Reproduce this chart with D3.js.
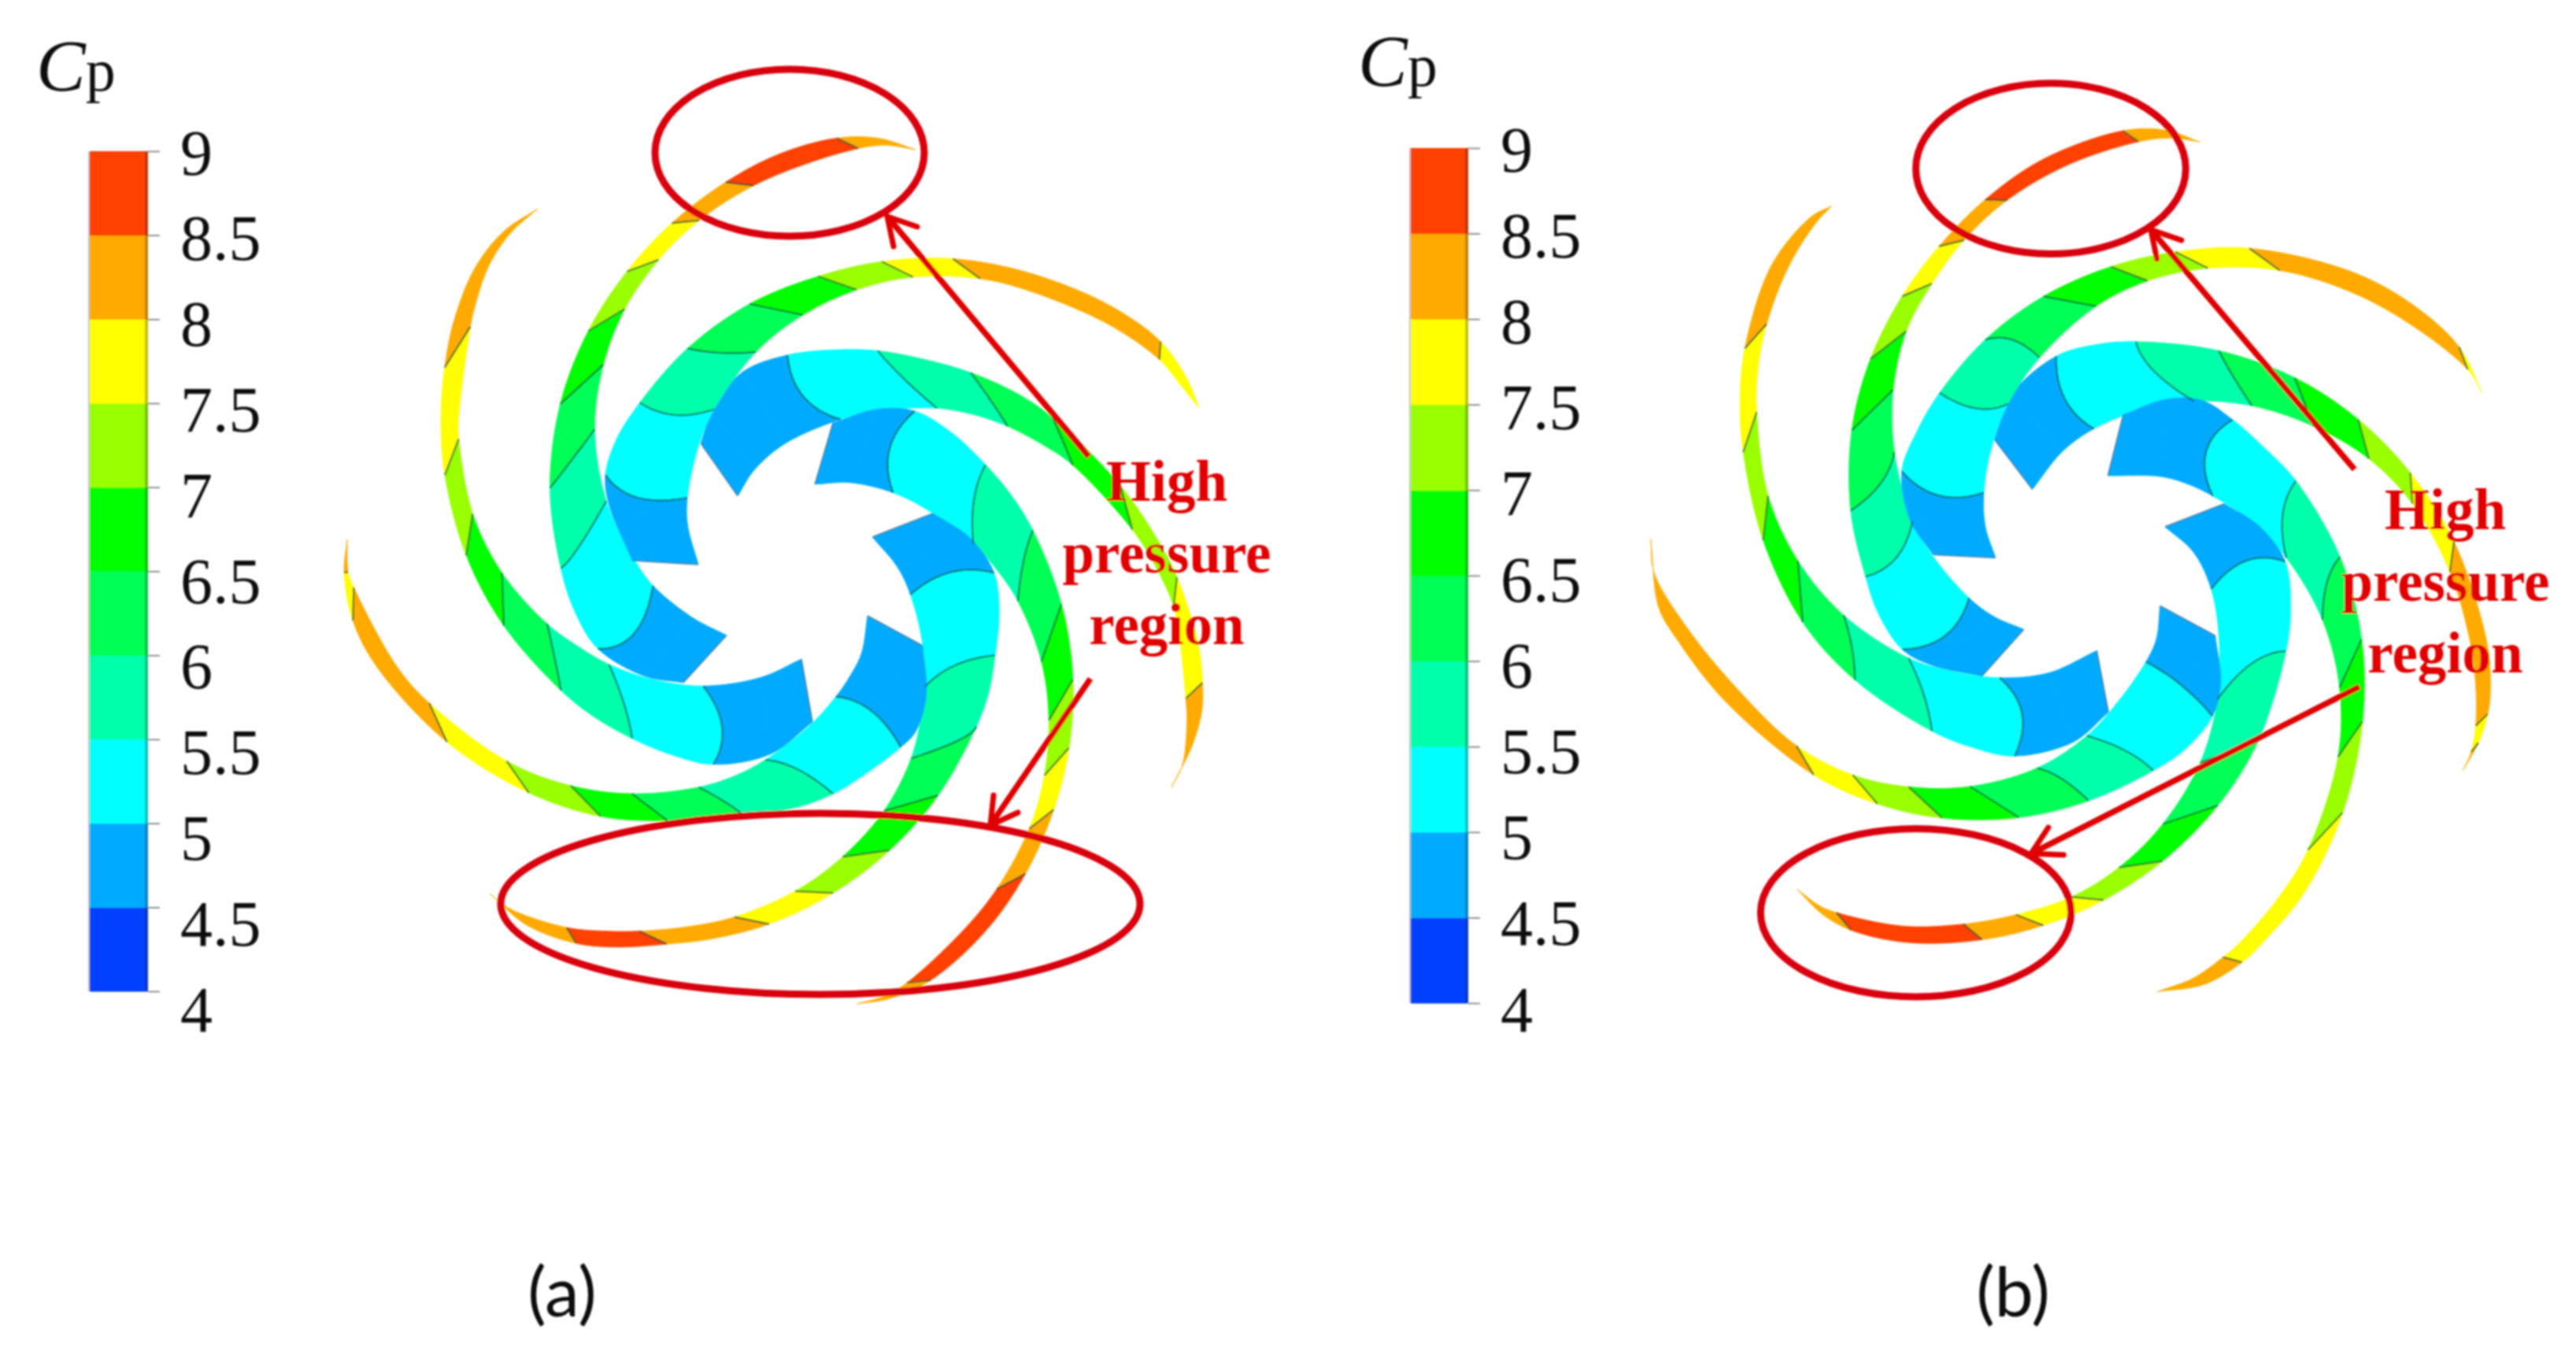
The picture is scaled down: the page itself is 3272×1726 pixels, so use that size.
<!DOCTYPE html>
<html><head><meta charset="utf-8">
<style>html,body{margin:0;background:#fff}svg{display:block}</style>
<script src="https://cdn.jsdelivr.net/npm/d3@7"></script></head><body>
<svg id="c" width="3272" height="1726"></svg>
<script>
// Cp colour bands
const cpTicks=[4,4.5,5,5.5,6,6.5,7,7.5,8,8.5,9];
const cpBandLow=[4,4.5,5,5.5,6,6.5,7,7.5,8,8.5];
const cpColors=["#0040ff","#00aaff","#00ffff","#00ffaa","#00ff55","#00ff00","#99ff00","#ffff00","#ffaa00","#ff4000"];
// Blade stations: [convexX,convexY,concaveX,concaveY,Cp of following band,(contour midX,midY)]
const bladeA1=[[890,563,937,630,4.5],[907,523,957,597,4.5],[940,470,997,563,4.5],[1002,453,1068,533,5,1020,503],[1063,444,1113,522,5],[1115,445,1190,518,5.5,1147,480],[1173,457,1237,527,5.5],[1233,473,1280,541,6,1258,508],[1293,500,1327,567,6],[1337,530,1363,590,6.5,1350,560],[1423,617,1438,673,7],[1467,680,1468,720,7],[1495,733,1493,770,7.5],[1522,817,1497,817,7.5],[1527,867,1507,887,8],[1528,903,1507,917,8],[1513,947,1503,973,8],[1488,1000,1488,1000,8]];
const bladeA2=[[1058,537,1035,615,4.5],[1113,522,1080,613,4.5],[1163,519,1135,625,5,1130,570],[1210,553,1183,652,5],[1252,590,1237,690,5.5,1237,635],[1283,627,1265,723,5.5],[1312,673,1293,763,6,1300,713],[1348,767,1323,840,6.5],[1363,863,1332,915,7],[1358,950,1327,985,7.5],[1338,1028,1307,1052,8],[1303,1110,1267,1130,8.5],[1251,1182,1221,1182,8.5],[1183,1247,1153,1250,8],[1130,1268,1125,1265,8],[1088,1275,1088,1275,8]];
const bladeA3=[[1185,652,1108,682,4.5],[1230,683,1140,720,4.5],[1265,727,1157,755,5,1207,727],[1268,780,1170,813,5],[1263,832,1177,872,5.5,1213,845],[1257,880,1170,903,5.5],[1240,922,1158,963,6,1218,940],[1192,1010,1123,1030,6.5],[1130,1080,1070,1088,7],[1058,1134,1010,1132,7.5],[977,1174,933,1165,8],[900,1193,875,1176,8],[847,1198,812,1183,8.5],[785,1203,770,1182,8.5],[732,1198,720,1178,8],[668,1175,647,1155,8],[622,1135,622,1135,8]];
const bladeA4=[[1172,820,1102,782,4.5],[1175,883,1095,830,4.5],[1165,932,1078,860,4.5],[1143,948,1062,885,5,1107,903],[1100,983,1030,920,5],[1058,1007,972,965,5.5,1013,977],[1007,1030,935,985,5.5],[943,1032,888,1000,6,920,1018],[848,1042,803,1008,6.5,825,1025],[763,1038,725,998,7],[672,1007,643,967,7.5],[568,942,546,892,8],[477,847,503,847,8],[447,788,450,745,7.5],[437,727,440,727,8],[441,685,441,685,8]];
const bladeA5=[[1032,917,1018,837,4.5],[980,957,967,860,4.5],[905,972,893,872,5,917,923],[853,957,830,862,5],[803,938,773,845,5.5,793,895],[753,910,735,820,5.5],[713,877,695,793,6,705,838],[640,795,638,728,6.5],[592,705,600,652,7],[565,603,583,557,7.5],[560,533,582,533,7.5],[565,467,598,415,8],[577,407,602,393,8],[603,340,620,340,8],[640,293,647,297,8],[683,265,683,265,8]];
const bladeA6=[[868,867,923,807,4.5],[820,858,880,783,4.5],[758,825,828,745,5,805,805],[730,777,805,707,5],[713,722,770,637,5.5,735,695],[698,620,755,545,6,718,595],[712,513,767,463,6.5],[747,420,793,392,7],[797,345,837,330,7.5],[853,283,888,280,8],[922,232,957,235,8.5],[990,195,1028,208,8.5],[1063,175,1090,187,8],[1117,175,1125,184,8],[1163,190,1163,190,8]];
const bladeA7=[[803,712,887,717,4.5],[775,640,873,667,4.5],[767,603,873,632,5,810,632],[782,557,887,567,5],[813,512,907,520,5.5,857,527],[873,443,960,447,6,915,448],[952,385,1020,400,6.5],[1040,352,1088,368,7],[1120,332,1160,352,7.5],[1210,328,1245,353,8],[1307,347,1307,370,8],[1407,387,1407,412,8],[1477,432,1475,455,7.5],[1507,483,1497,490,7.5],[1523,518,1523,518,7.5]];
const bladeB1=[[620,630,682,710,4.5],[645,560,730,650,4.5],[722,495,782,612,5,735,565],[785,478,860,583,5],[850,472,945,568,5.5,880,520],[985,488,1040,575,6,1010,530],[1110,530,1140,610,6.5],[1213,598,1231,660,7],[1298,683,1302,733,7.5],[1369,794,1362,843,8],[1424,957,1396,957,8],[1430,1033,1405,1033,8],[1424,1071,1405,1090,7.5],[1409,1117,1398,1132,8],[1384,1161,1384,1161,8]];
const bladeB2=[[830,590,805,688,4.5],[900,568,890,690,4.5],[960,563,935,700,4.5],[1008,600,975,722,5,965,650],[1060,645,1040,760,5],[1112,695,1095,820,5.5,1090,750],[1183,818,1155,919,6,1162,860],[1219,951,1183,1028,6.5],[1220,1083,1180,1140,7],[1187,1229,1131,1290,7.5],[1125,1361,1082,1366,7.5],[1056,1437,1020,1440,7.5],[1025,1470,992,1460,8],[962,1505,945,1496,8],[885,1517,885,1517,8]];
const bladeB3=[[995,733,898,770,4.5],[1050,770,945,810,4.5],[1097,825,975,870,5,1030,825],[1103,900,985,950,5],[1095,969,984,1047,5.5,1039,990],[1050,1115,956,1149,6],[984,1218,894,1248,6.5],[894,1307,823,1317,7],[798,1370,746,1366,7.5],[700,1410,655,1392,8],[600,1433,570,1408,8.5],[480,1438,470,1412,8.5],[385,1420,362,1390,8],[340,1392,335,1380,8],[298,1352,298,1352,8]];
const bladeB4=[[980,945,890,897,4.5],[988,1020,885,950,4.5],[977,1075,868,988,5,924,1024],[930,1130,820,1050,5],[879,1161,772,1106,5.5,834,1130],[774,1210,690,1158,6,730,1175],[660,1237,580,1187,6.5],[535,1238,480,1188,7],[430,1215,390,1168,7.5],[325,1170,295,1125,8],[183,1050,205,1030,8],[105,955,120,935,8],[70,900,60,845,8],[60,790,60,790,8]];
const bladeB5=[[806,1068,787,969,4.5],[750,1115,710,1005,4.5],[652,1140,628,1013,5,665,1070],[590,1125,550,1000,5],[518,1100,480,983,5.5,505,1040],[395,1015,375,912,6,388,965],[305,925,300,825,6.5],[245,790,250,720,7],[210,650,235,585,7.5],[205,570,232,520,7.5],[215,485,250,445,8],[255,350,285,350,8],[320,270,330,280,8],[355,255,355,255,8]];
const bladeB6=[[600,1010,668,935,4.5],[520,990,620,915,4.5],[468,970,578,885,5,540,945],[430,910,520,815,5],[412,850,485,762,5.5,460,820],[385,745,458,650,6,435,700],[388,615,455,550,6.5],[418,500,475,455,7],[470,400,520,380,7.5],[530,320,570,310,8],[605,245,640,245,8.5],[700,180,740,190,8.5],[830,132,855,150,8],[900,132,910,145,8],[955,152,955,152,8]];
const bladeB7=[[520,815,622,820,4.5],[485,760,605,770,4.5],[465,680,602,715,5,530,720],[495,620,615,650,5],[530,555,640,572,5.5,590,580],[605,470,695,500,6,650,470],[700,400,785,415,6.5],[810,352,870,375,7],[915,330,968,355,7.5],[1035,322,1085,358,8],[1200,360,1200,392,8],[1300,412,1295,445,8],[1380,480,1395,515,7.5],[1415,555,1415,555,7.5]];
// Annotations: ellipses [cx,cy,rx,ry], arrows [fromX,fromY,toX,toY,barb1X,barb1Y,barb2X,barb2Y]
const ellipsesA=[[1003,194,171,106],[1042,1148,406,115]];
const ellipsesB=[[712,195,220,137],[492,1390,253,135]];
const arrowsA=[[1383,580,1127,275,1165,288,1135,313],[1385,862,1258,1048,1262,1010,1293,1032]];
const arrowsB=[[1207,678,875,293,925,310,885,340],[1215,1027,680,1295,733,1297,708,1253]];
const calloutLines=["High","pressure","region"];

const svg=d3.select("#c");
const defs=svg.append("defs");
defs.append("filter").attr("id","soft").attr("x","-2%").attr("y","-2%").attr("width","104%").attr("height","104%")
  .append("feGaussianBlur").attr("stdDeviation",0.8);
const root=svg.append("g").attr("filter","url(#soft)");
const color=d3.scaleThreshold().domain(cpBandLow.slice(1)).range(cpColors);
const serif="'Liberation Serif','Times New Roman',serif";
const RED="#e00000";

// Reading noise only: pull each edge point towards a local quadratic through its neighbours.
function solve3(A,b){
  const M=A.map((r,i)=>[...r,b[i]]);
  for(let c=0;c<3;c++){
    let p=c;for(let r=c+1;r<3;r++)if(Math.abs(M[r][c])>Math.abs(M[p][c]))p=r;
    [M[c],M[p]]=[M[p],M[c]];
    for(let r=0;r<3;r++)if(r!==c){const f=M[r][c]/M[c][c];for(let k=c;k<4;k++)M[r][k]-=f*M[c][k];}
  }
  return M.map((r,i)=>r[3]/r[i]);
}
function smoothEdge(pts,blend){
  const s=[0];pts.forEach((p,i)=>{if(i)s.push(s[i-1]+Math.hypot(p[0]-pts[i-1][0],p[1]-pts[i-1][1]));});
  return pts.map((p,i)=>{
    if(i===0||i===pts.length-1) return p;
    const a=Math.max(0,i-2),b=Math.min(pts.length-1,i+2);
    if(b-a<3) return p;
    const A=[[0,0,0],[0,0,0],[0,0,0]],bx=[0,0,0],by=[0,0,0];
    for(let k=a;k<=b;k++){
      const t=(s[k]-s[i])/100,v=[1,t,t*t];
      for(let r=0;r<3;r++){for(let c=0;c<3;c++)A[r][c]+=v[r]*v[c];bx[r]+=v[r]*pts[k][0];by[r]+=v[r]*pts[k][1];}
    }
    return [p[0]+blend*(solve3(A,bx)[0]-p[0]),p[1]+blend*(solve3(A,by)[0]-p[1])];
  });
}
function smoothBlade(b){
  const o=smoothEdge(b.map(s=>[s[0],s[1]]),.65),n=smoothEdge(b.map(s=>[s[2],s[3]]),.65);
  return b.map((s,i)=>[o[i][0],o[i][1],n[i][0],n[i][1],...s.slice(4)]);
}
function cr(p0,p1,p2,p3,t){ // centripetal Catmull-Rom
  const kn=(a,b,k)=>k+Math.max(1e-3,Math.pow(Math.hypot(b[0]-a[0],b[1]-a[1]),.5));
  const t0=0,t1=kn(p0,p1,t0),t2=kn(p1,p2,t1),t3=kn(p2,p3,t2),u=t1+(t2-t1)*t;
  const l=(a,b,ta,tb)=>[a[0]+(b[0]-a[0])*(u-ta)/(tb-ta),a[1]+(b[1]-a[1])*(u-ta)/(tb-ta)];
  const A1=l(p0,p1,t0,t1),A2=l(p1,p2,t1,t2),A3=l(p2,p3,t2,t3);
  const B1=l(A1,A2,t0,t2),B2=l(A2,A3,t1,t3);
  return l(B1,B2,t1,t2);
}
function sampleEdge(pts,i){
  const n=pts.length,g=k=>k<0?[2*pts[0][0]-pts[1][0],2*pts[0][1]-pts[1][1]]:k>=n?[2*pts[n-1][0]-pts[n-2][0],2*pts[n-1][1]-pts[n-2][1]]:pts[k];
  return d3.range(0,11).map(s=>cr(g(i-1),g(i),g(i+1),g(i+2),s/10));
}
function contour(st){
  const o=[st[0],st[1]],n=[st[2],st[3]];
  if(st.length<7) return [o,n];
  const c=[2*st[5]-(o[0]+n[0])/2,2*st[6]-(o[1]+n[1])/2];
  return d3.range(0,13).map(k=>{const t=k/12,u=1-t;return [u*u*o[0]+2*u*t*c[0]+t*t*n[0],u*u*o[1]+2*u*t*c[1]+t*t*n[1]];});
}
function drawPanel(rawBlades,ellipses,arrows,sx,sy,callout){
  const g=root.append("g");
  const blades=rawBlades.map(smoothBlade);
  const line=d3.line().x(d=>sx(d[0])).y(d=>sy(d[1]));
  blades.forEach(b=>{
    const outer=b.map(s=>[s[0],s[1]]),inner=b.map(s=>[s[2],s[3]]);
    d3.range(b.length-1).forEach(i=>{
      const poly=[...sampleEdge(outer,i),...contour(b[i+1]),...sampleEdge(inner,i).reverse(),...contour(b[i]).reverse()];
      g.append("path").attr("d",line(poly)+"Z").attr("fill",color(b[i][4])).attr("stroke",color(b[i][4])).attr("stroke-width",.8);
    });
  });
  blades.forEach(b=>{
    b.forEach((s,i)=>{
      if(i>0&&s[4]!==b[i-1][4]) g.append("path").attr("d",line(contour(s))).attr("fill","none").attr("stroke","#0c4a3c").attr("stroke-opacity",.72).attr("stroke-width",2.2);
    });
    g.append("path").attr("d",line(contour(b[0]))).attr("fill","none").attr("stroke","#555").attr("stroke-opacity",.55).attr("stroke-width",1.6);
  });
  ellipses.forEach(e=>g.append("ellipse").attr("cx",sx(e[0])).attr("cy",sy(e[1])).attr("rx",sx(e[2])-sx(0)).attr("ry",sy(e[3])-sy(0)).attr("fill","none").attr("stroke","#d90010").attr("stroke-width",9));
  arrows.forEach(a=>{
    g.append("path").attr("d",line([[a[0],a[1]],[a[2],a[3]]])).attr("stroke",RED).attr("stroke-width",7.5).attr("fill","none");
    g.append("path").attr("d",line([[a[4],a[5]],[a[2],a[3]],[a[6],a[7]]])).attr("stroke",RED).attr("stroke-width",7).attr("fill","none").attr("stroke-linecap","round");
  });
  g.selectAll("text.c").data(calloutLines).join("text").attr("class","c")
    .attr("x",callout.x).attr("y",(d,i)=>callout.y+i*91)
    .attr("text-anchor","middle").attr("font-family",serif).attr("font-weight","bold").attr("font-size",73).attr("fill",RED).text(d=>d);
}
function drawBar(x0,x1,top,bot,labTop,labBot,labX,cx,cy){
  const g=root.append("g"),y=d3.scaleLinear([4,9],[bot,top]);
  cpBandLow.forEach((v,i)=>g.append("rect").attr("x",x0).attr("width",x1-x0).attr("y",y(v+.5)).attr("height",y(v)-y(v+.5)+.5).attr("fill",cpColors[i]));
  g.append("rect").attr("x",x0-2).attr("y",top).attr("width",2).attr("height",bot-top).attr("fill","#888").attr("opacity",.55);
  g.append("rect").attr("x",x1-4).attr("y",top).attr("width",4).attr("height",bot-top).attr("fill","#222").attr("opacity",.28);
  const tk=g.append("g").attr("transform",`translate(${x1},0)`).call(d3.axisRight(y).tickValues(cpTicks).tickSize(15).tickFormat(""));
  tk.select(".domain").remove();
  tk.selectAll("line").attr("stroke","#777").attr("stroke-width",1.6);
  const ly=d3.scaleLinear([4,9],[labBot,labTop]);
  const lb=g.append("g").attr("transform",`translate(${labX},0)`).call(d3.axisRight(ly).tickValues(cpTicks).tickSize(0).tickPadding(0).tickFormat(d=>String(d)));
  lb.select(".domain").remove();
  lb.selectAll("text").attr("font-family",serif).attr("font-size",82).attr("fill","#111").attr("dy",".33em").attr("x",0);
  const t=g.append("text").attr("x",cx).attr("y",cy).attr("font-family",serif).attr("fill","#111");
  t.append("tspan").attr("font-style","italic").attr("font-size",94).text("C");
  t.append("tspan").attr("font-size",76).text("p");
}
const syP=d3.scaleLinear([0,1568],[60,1300]);
const px=d3.scaleLinear([0,3272],[0,3272]);
drawPanel([bladeA1,bladeA2,bladeA3,bladeA4,bladeA5,bladeA6,bladeA7],ellipsesA,arrowsA,px,px,{x:1482,y:636});
drawPanel([bladeB1,bladeB2,bladeB3,bladeB4,bladeB5,bladeB6,bladeB7],ellipsesB,arrowsB,d3.scaleLinear([0,1568],[2050,3272]),syP,{x:3106,y:672});
drawBar(114,188,192,1259,194,1282,229,46,115);
drawBar(1792,1865,188,1274,190,1282,1906,1725,109);
[["(a)",714],["(b)",2557]].forEach(([s,x])=>root.append("text").attr("x",x).attr("y",1672).attr("text-anchor","middle").attr("font-family","Lato,'Open Sans',sans-serif").attr("font-size",88).attr("fill","#111").text(s));
</script></body></html>
